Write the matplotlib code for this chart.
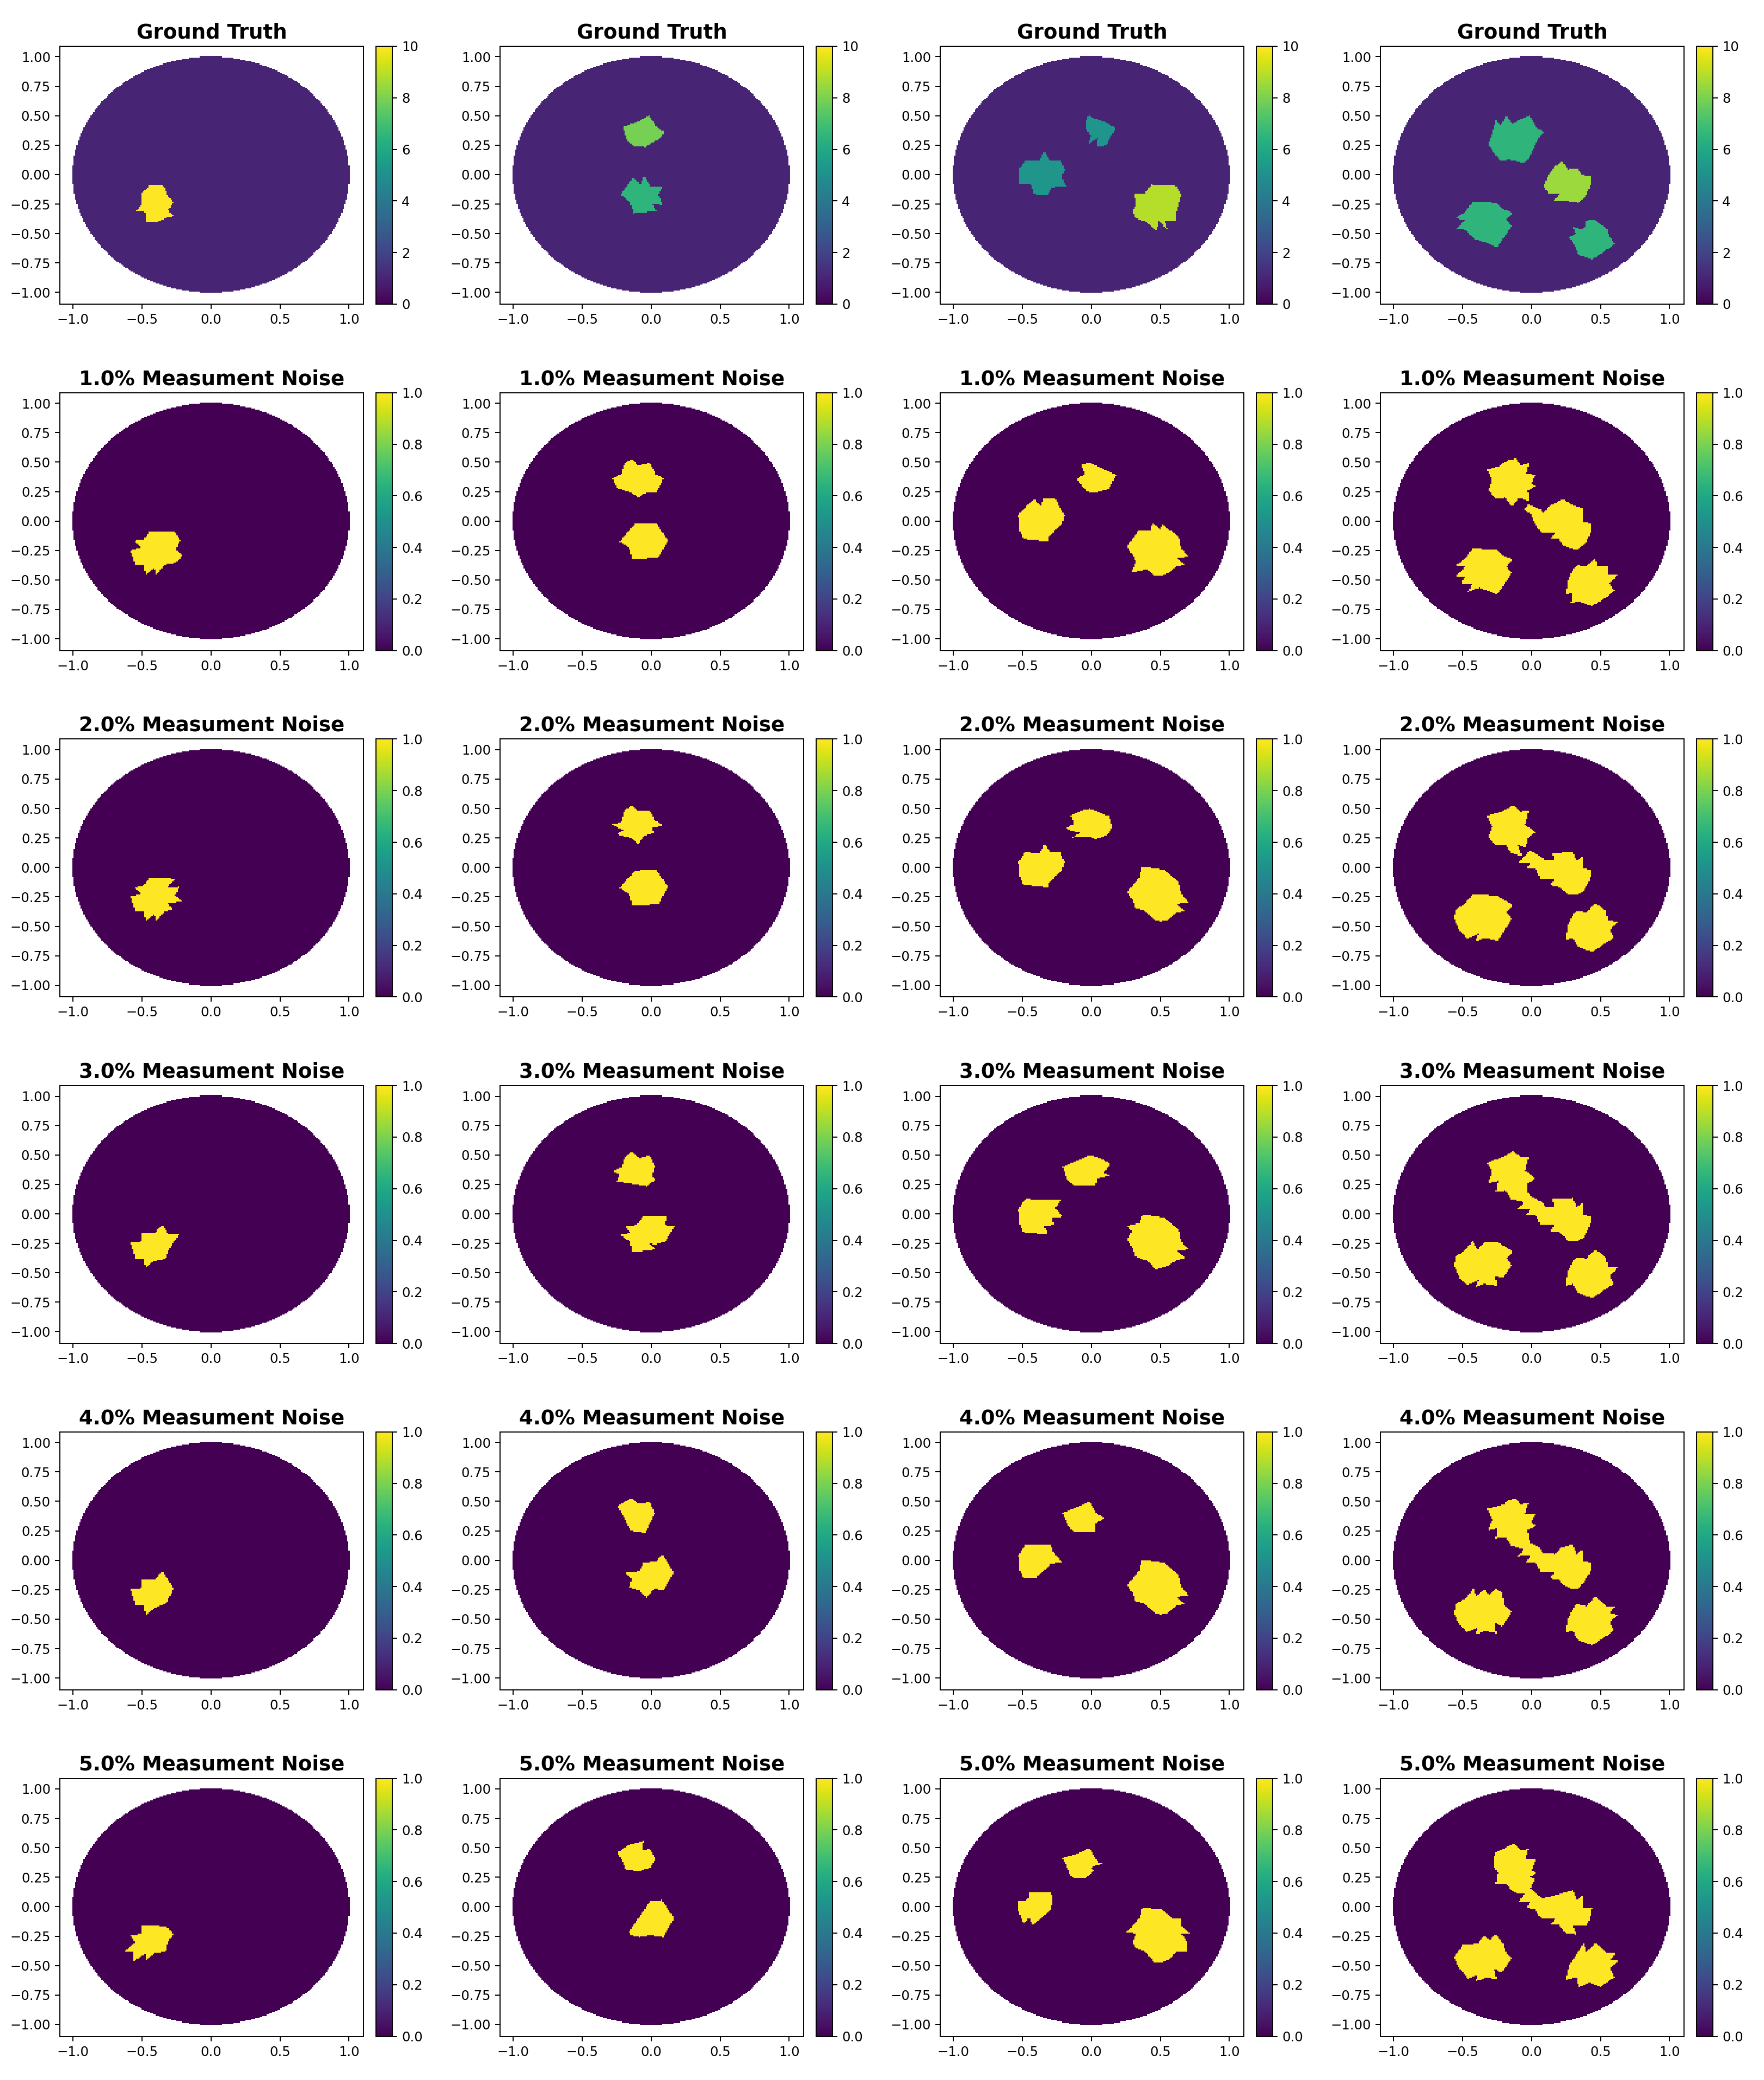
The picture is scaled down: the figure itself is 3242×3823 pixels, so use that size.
import numpy as np
import matplotlib
matplotlib.use('Agg')
import matplotlib.pyplot as plt
from matplotlib.path import Path

# contours, (x, y) en unites des axes
# ground truth
gt_c1_a = [(-.44,-.087),(-.365,-.087),(-.34,-.106),(-.31,-.185),(-.27,-.234),(-.31,-.30),(-.27,-.355),(-.33,-.37),(-.41,-.408),(-.476,-.397),(-.47,-.317),(-.547,-.313),(-.50,-.253),(-.50,-.155)]
gt_c2_a = [(-.014,.502),(.041,.401),(.096,.36),(.069,.309),(-.045,.236),(-.137,.247),(-.178,.301),(-.206,.404),(-.103,.444)]
gt_c2_b = [(-.051,-.012),(-.007,-.1),(.086,-.097),(.051,-.17),(.086,-.258),(.007,-.252),(.041,-.309),(-.127,-.327),(-.154,-.231),(-.223,-.17),(-.13,-.023),(-.079,-.085)]
gt_c3_a = [(-.017,.502),(.007,.481),(.093,.451),(.178,.394),(.127,.293),(.110,.25),(.034,.236),(.048,.312),(-.027,.255),(-.003,.324),(-.045,.394),(-.034,.475)]
gt_c3_b = [(-.343,.198),(-.302,.123),(-.226,.123),(-.192,.046),(-.216,-.023),(-.182,-.096),(-.285,-.108),(-.319,-.174),(-.415,-.165),(-.439,-.085),(-.518,-.085),(-.525,.046),(-.473,.123),(-.377,.123)]
gt_c3_c = [(.436,-.085),(.614,-.096),(.652,-.17),(.631,-.262),(.614,-.324),(.614,-.389),(.532,-.389),(.549,-.46),(.487,-.394),(.47,-.471),(.384,-.394),(.322,-.37),(.298,-.316),(.326,-.247),(.309,-.157),(.384,-.165)]
gt_c4_a = [(-.258,.461),(-.224,.419),(-.183,.499),(-.136,.432),(-.09,.461),(-.015,.499),(.037,.395),(.09,.363),(.047,.30),(-.015,.149),(-.052,.096),(-.127,.121),(-.164,.128),(-.224,.117),(-.277,.196),(-.314,.257),(-.286,.347)]
gt_c4_b = [(.221,.117),(.265,.045),(.331,.055),(.368,-.002),(.436,-.017),(.428,-.087),(.393,-.181),(.34,-.238),(.293,-.229),(.228,-.219),(.159,-.225),(.206,-.159),(.131,-.166),(.09,-.106),(.097,-.068),(.125,-.002),(.163,.064)]
gt_c4_c = [(-.426,-.229),(-.258,-.238),(-.202,-.295),(-.133,-.323),(-.183,-.385),(-.142,-.436),(-.202,-.54),(-.249,-.619),(-.333,-.578),(-.417,-.544),(-.482,-.468),(-.548,-.465),(-.479,-.383),(-.548,-.374),(-.473,-.304)]
gt_c4_d = [(.396,-.389),(.456,-.383),(.546,-.461),(.564,-.521),(.602,-.591),(.518,-.663),(.437,-.72),(.34,-.682),(.312,-.597),(.275,-.536),(.321,-.502),(.297,-.442),(.368,-.465),(.396,-.436)]

# bruit 1 %
n1_c1_a = [(-.445,-.091),(-.258,-.094),(-.223,-.168),(-.258,-.242),(-.208,-.292),(-.251,-.353),(-.336,-.37),(-.399,-.46),(-.41,-.393),(-.473,-.46),(-.484,-.376),(-.548,-.376),(-.583,-.249),(-.505,-.225),(-.558,-.168),(-.488,-.158)]
n1_c2_a = [(-.141,.531),(-.095,.471),(-.011,.491),(.035,.397),(.092,.36),(.035,.245),(-.053,.235),(-.092,.195),(-.141,.239),(-.247,.279),(-.282,.363),(-.219,.397),(-.194,.481)]
n1_c2_b = [(-.116,-.024),(.035,-.017),(.123,-.168),(.053,-.309),(-.134,-.326),(-.159,-.225),(-.229,-.175)]
n1_c3_a = [(-.073,.477),(-.014,.497),(.035,.471),(.179,.39),(.127,.274),(.021,.235),(-.035,.252),(-.106,.355),(-.049,.397)]
n1_c3_b = [(-.416,.187),(-.367,.132),(-.346,.194),(-.261,.187),(-.195,.048),(-.212,-.023),(-.310,-.135),(-.317,-.174),(-.494,-.152),(-.518,-.087),(-.529,.052),(-.458,.139)]
n1_c3_c = [(.346,-.077),(.430,-.077),(.441,-.013),(.501,-.071),(.515,-.029),(.635,-.135),(.653,-.232),(.705,-.303),(.617,-.313),(.68,-.371),(.613,-.387),(.557,-.442),(.501,-.468),(.458,-.458),(.409,-.41),(.289,-.435),(.324,-.345),(.303,-.297),(.257,-.216)]
n1_c4_a = [(-.323,.437),(-.23,.469),(-.174,.516),(-.112,.531),(-.075,.474),(-.021,.49),(-.037,.399),(.032,.395),(-.006,.31),(.032,.299),(-.028,.257),(-.015,.168),(-.09,.197),(-.142,.125),(-.193,.197),(-.258,.191),(-.314,.257),(-.286,.352)]
n1_c4_b = [(-.024,.144),(.069,.096),(.088,.064),(.125,.125),(.228,.185),(.303,.134),(.374,.106),(.368,-.004),(.436,-.021),(.428,-.102),(.393,-.187),(.34,-.24),(.284,-.234),(.228,-.206),(.2,-.155),(.135,-.155),(.172,-.098),(.069,-.098),(.022,-.017),(-.006,.059),(-.052,.096)]
n1_c4_c = [(-.426,-.231),(-.258,-.244),(-.202,-.297),(-.133,-.323),(-.183,-.386),(-.142,-.439),(-.202,-.546),(-.249,-.622),(-.333,-.584),(-.379,-.565),(-.458,-.599),(-.436,-.537),(-.51,-.537),(-.482,-.471),(-.548,-.467),(-.479,-.386),(-.548,-.376),(-.473,-.306)]
n1_c4_d = [(.331,-.371),(.396,-.386),(.465,-.31),(.471,-.382),(.55,-.382),(.555,-.452),(.626,-.457),(.564,-.527),(.602,-.594),(.518,-.665),(.437,-.722),(.34,-.679),(.284,-.698),(.295,-.612),(.25,-.622),(.265,-.509),(.293,-.423)]

# bruit 2 %
n2_c1_a = [(-.445,-.087),(-.258,-.097),(-.318,-.171),(-.23,-.165),(-.258,-.239),(-.208,-.289),(-.311,-.306),(-.276,-.356),(-.336,-.373),(-.399,-.457),(-.41,-.397),(-.473,-.457),(-.484,-.373),(-.548,-.373),(-.583,-.245),(-.505,-.229),(-.558,-.171),(-.488,-.155)]
n2_c2_a = [(-.141,.528),(-.095,.477),(-.011,.484),(.028,.4),(.092,.36),(0,.333),(.028,.299),(-.053,.266),(-.092,.198),(-.141,.249),(-.247,.282),(-.205,.316),(-.282,.366),(-.219,.383),(-.194,.484)]
n2_c2_b = [(-.116,-.027),(.035,-.02),(.123,-.165),(.053,-.313),(-.134,-.323),(-.159,-.229),(-.229,-.175)]
n2_c3_a = [(-.148,.442),(-.078,.481),(-.014,.5),(.035,.481),(.131,.435),(.152,.339),(.120,.281),(.035,.242),(-.028,.265),(-.141,.255),(-.078,.297),(-.148,.313),(-.183,.335),(-.127,.368)]
n2_c3_b = [(-.48,.129),(-.374,.119),(-.343,.2),(-.293,.129),(-.226,.129),(-.195,.045),(-.212,-.026),(-.31,-.132),(-.315,-.171),(-.494,-.148),(-.518,-.084),(-.529,.045)]
n2_c3_c = [(.366,0),(.402,0),(.522,-.019),(.635,-.132),(.653,-.229),(.705,-.297),(.617,-.31),(.68,-.371),(.613,-.387),(.557,-.445),(.501,-.461),(.458,-.445),(.381,-.365),(.317,-.348),(.303,-.284),(.257,-.21),(.346,-.09)]
n2_c4_a = [(-.324,.438),(-.216,.477),(-.131,.528),(-.075,.477),(-.021,.483),(-.046,.364),(.031,.299),(-.025,.257),(-.04,.17),(-.099,.192),(-.068,.095),(-.145,.121),(-.188,.192),(-.258,.186),(-.315,.257),(-.286,.347)]
n2_c4_b = [(-.096,.04),(-.011,.144),(.08,.082),(.102,.057),(.165,.057),(.151,.121),(.299,.131),(.327,.057),(.377,.095),(.367,-.008),(.437,-.024),(.422,-.105),(.377,-.202),(.334,-.234),(.271,-.234),(.207,-.17),(.134,-.153),(.169,-.099),(.066,-.099),(.031,-.015),(-.039,-.015),(-.004,.04)]
n2_c4_c = [(-.427,-.228),(-.251,-.241),(-.131,-.321),(-.181,-.38),(-.141,-.435),(-.244,-.622),(-.343,-.599),(-.406,-.628),(-.385,-.564),(-.463,-.606),(-.519,-.541),(-.564,-.428),(-.547,-.363),(-.477,-.299)]
n2_c4_d = [(.327,-.37),(.398,-.38),(.461,-.305),(.546,-.373),(.55,-.454),(.626,-.46),(.567,-.531),(.598,-.599),(.518,-.654),(.44,-.719),(.334,-.67),(.299,-.599),(.247,-.615),(.264,-.493),(.299,-.402)]

# bruit 3 %
n3_c1_a = [(-.505,-.158),(-.406,-.158),(-.353,-.094),(-.311,-.168),(-.23,-.168),(-.311,-.319),(-.329,-.38),(-.417,-.403),(-.473,-.461),(-.484,-.38),(-.548,-.38),(-.583,-.245),(-.505,-.235)]
n3_c2_a = [(-.141,.531),(-.088,.471),(-.011,.497),(.028,.403),(.007,.319),(.035,.292),(-.035,.235),(-.123,.252),(-.247,.276),(-.229,.336),(-.282,.363),(-.212,.393),(-.194,.471)]
n3_c2_b = [(-.053,-.017),(.113,-.017),(.099,-.094),(.169,-.101),(.106,-.235),(.035,-.259),(-.018,-.252),(.035,-.303),(-.134,-.326),(-.152,-.235),(-.229,-.178),(-.152,-.161),(-.187,-.101),(-.106,-.094)]
n3_c3_a = [(-.209,.398),(-.106,.447),(-.014,.498),(.078,.466),(.137,.424),(.085,.343),(.137,.327),(.042,.301),(.031,.236),(-.049,.246),(-.134,.246),(-.176,.294)]
n3_c3_b = [(-.473,.126),(-.216,.123),(-.261,.052),(-.209,-.023),(-.287,-.036),(-.268,-.094),(-.346,-.1),(-.313,-.175),(-.494,-.155),(-.518,-.094),(-.529,.036),(-.508,.084)]
n3_c3_c = [(.37,-.006),(.522,-.029),(.635,-.136),(.653,-.239),(.705,-.304),(.617,-.314),(.68,-.375),(.613,-.395),(.557,-.443),(.465,-.472),(.409,-.401),(.317,-.362),(.296,-.288),(.257,-.217),(.296,-.149),(.257,-.104),(.346,-.078)]
n3_c4_a = [(-.324,.434),(-.216,.479),(-.131,.531),(-.075,.479),(-.021,.485),(-.046,.366),(.031,.301),(-.025,.262),(-.032,.197),(-.004,.149),(.08,.1),(.102,.058),(.165,.058),(.151,.129),(.299,.136),(.327,.058),(.377,.097),(.367,-.006),(.437,-.023),(.422,-.104),(.377,-.201),(.334,-.233),(.271,-.233),(.2,-.152),(.134,-.152),(.169,-.087),(.066,-.094),(.031,-.006),(-.039,-.006),(-.004,.042),(-.099,.042),(-.053,.1),(-.145,.123),(-.188,.197),(-.258,.191),(-.244,.278),(-.315,.262),(-.286,.359)]
n3_c4_c = [(-.427,-.23),(-.392,-.304),(-.343,-.246),(-.251,-.239),(-.131,-.32),(-.181,-.379),(-.141,-.434),(-.209,-.547),(-.258,-.531),(-.254,-.612),(-.343,-.595),(-.406,-.628),(-.385,-.563),(-.463,-.605),(-.519,-.547),(-.564,-.434),(-.547,-.362),(-.477,-.304)]
n3_c4_d = [(.327,-.369),(.398,-.379),(.461,-.304),(.546,-.375),(.55,-.453),(.626,-.456),(.567,-.531),(.598,-.595),(.518,-.654),(.44,-.718),(.334,-.67),(.299,-.595),(.247,-.612),(.264,-.492),(.299,-.401)]

# bruit 4 %
n4_c1_a = [(-.505,-.161),(-.406,-.161),(-.353,-.094),(-.311,-.161),(-.272,-.245),(-.322,-.363),(-.417,-.407),(-.473,-.464),(-.484,-.38),(-.548,-.38),(-.583,-.245),(-.505,-.235)]
n4_c2_a = [(-.141,.528),(-.088,.477),(-.011,.494),(.028,.4),(-.042,.232),(-.148,.249),(-.194,.36),(-.247,.46)]
n4_c2_b = [(-.053,-.02),(.035,-.01),(.081,.05),(.166,-.104),(.088,-.255),(.025,-.239),(-.035,-.319),(-.088,-.252),(-.159,-.229),(-.141,-.161),(-.187,-.104),(-.088,-.094)]
n4_c3_a = [(-.209,.401),(-.092,.456),(-.014,.498),(.035,.401),(.092,.359),(.035,.311),(.031,.239),(-.134,.246),(-.176,.311)]
n4_c3_b = [(-.48,.126),(-.289,.126),(-.275,.068),(-.209,-.019),(-.292,-.029),(-.402,-.152),(-.494,-.152),(-.518,-.087),(-.529,.042)]
n4_c3_c = [(.366,0),(.402,0),(.522,-.019),(.635,-.132),(.653,-.229),(.705,-.297),(.617,-.31),(.68,-.371),(.613,-.387),(.557,-.445),(.501,-.461),(.458,-.445),(.381,-.365),(.317,-.348),(.303,-.284),(.257,-.21),(.346,-.09)]
n4_c4_a = [(-.324,.435),(-.195,.477),(-.167,.512),(-.110,.526),(-.082,.472),(-.023,.485),(-.046,.395),(.031,.392),(-.004,.323),(.031,.292),(-.03,.254),(-.011,.146),(.052,.115),(.08,.062),(.172,.054),(.214,.108),(.299,.134),(.327,.051),(.377,.092),(.367,-.008),(.437,-.018),(.426,-.1),(.384,-.177),(.342,-.238),(.285,-.238),(.229,-.208),(.2,-.162),(.134,-.154),(.168,-.1),(.066,-.097),(.031,-.018),(-.039,-.015),(-.004,.042),(-.099,.034),(-.053,.092),(-.145,.123),(-.188,.192),(-.258,.185),(-.248,.269),(-.315,.254),(-.283,.346)]
n4_c4_c = [(-.42,-.231),(-.399,-.308),(-.343,-.249),(-.308,-.289),(-.258,-.238),(-.213,-.277),(-.195,-.385),(-.141,-.438),(-.213,-.562),(-.265,-.531),(-.254,-.62),(-.336,-.603),(-.406,-.631),(-.385,-.569),(-.47,-.611),(-.519,-.546),(-.564,-.454),(-.547,-.369),(-.47,-.315)]
n4_c4_d = [(.327,-.369),(.398,-.389),(.461,-.308),(.546,-.389),(.609,-.392),(.563,-.446),(.626,-.462),(.567,-.523),(.598,-.6),(.518,-.662),(.44,-.723),(.334,-.677),(.299,-.6),(.247,-.618),(.264,-.5),(.299,-.415)]

# bruit 5 %
n5_c1_a = [(-.505,-.158),(-.406,-.158),(-.311,-.178),(-.272,-.235),(-.311,-.297),(-.329,-.381),(-.417,-.397),(-.473,-.462),(-.477,-.4),(-.558,-.462),(-.558,-.381),(-.622,-.377),(-.551,-.304),(-.583,-.238),(-.505,-.235)]
n5_c2_a = [(-.053,.561),(-.063,.483),(-.007,.491),(.032,.406),(0,.337),(-.088,.298),(-.183,.317),(-.205,.383),(-.247,.46),(-.159,.525)]
n5_c2_b = [(-.007,.046),(.078,.056),(.166,-.1),(.088,-.258),(-.007,-.242),(-.088,-.258),(-.152,-.238),(-.159,-.212)]
n5_c3_a = [(-.017,.499),(.052,.375),(.086,.364),(.014,.341),(0,.326),(.024,.306),(-.052,.239),(-.142,.247),(-.19,.368),(-.214,.414),(-.097,.453)]
n5_c3_b = [(-.452,.125),(-.39,.12),(-.294,.125),(-.276,.059),(-.297,-.034),(-.425,-.158),(-.449,-.096),(-.494,-.147),(-.528,-.034),(-.528,.051),(-.459,.056)]
n5_c3_c = [(.37,-.006),(.518,-.026),(.584,-.096),(.653,-.096),(.653,-.161),(.715,-.227),(.653,-.227),(.698,-.312),(.691,-.377),(.618,-.381),(.56,-.451),(.515,-.469),(.456,-.469),(.387,-.381),(.318,-.343),(.301,-.304),(.325,-.227),(.249,-.224),(.352,-.096)]
n5_c4_a = [(-.131,.533),(-.104,.514),(-.073,.476),(-.024,.491),(-.045,.402),(.031,.398),(0,.306),(.031,.29),(-.01,.252),(.024,.236),(-.01,.151),(.076,.066),(.197,.105),(.301,.139),(.328,.056),(.376,.097),(.369,-.006),(.439,-.015),(.421,-.111),(.397,-.165),(.301,-.165),(.325,-.238),(.249,-.227),(.197,-.154),(.138,-.154),(.18,-.096),(.066,-.096),(.024,-.019),(-.038,-.011),(-.01,.043),(-.097,.036),(-.052,.105),(-.131,.12),(-.183,.19),(-.259,.19),(-.245,.29),(-.276,.352),(-.263,.46)]
n5_c4_c = [(-.345,-.247),(-.304,-.286),(-.259,-.235),(-.207,-.312),(-.183,-.397),(-.142,-.439),(-.218,-.559),(-.269,-.528),(-.252,-.618),(-.321,-.602),(-.401,-.632),(-.39,-.575),(-.459,-.61),(-.529,-.513),(-.563,-.428),(-.494,-.32),(-.39,-.315)]
n5_c4_d = [(.38,-.309),(.397,-.386),(.463,-.309),(.542,-.389),(.611,-.389),(.577,-.448),(.629,-.459),(.57,-.525),(.601,-.598),(.497,-.683),(.421,-.644),(.342,-.683),(.325,-.598),(.249,-.621),(.273,-.497)]

# valeurs de conductivite
gt_fond = 1.0
gt_valeurs = [[10.0], [7.9, 6.5], [5.2, 5.2, 8.9], [6.5, 8.5, 6.5, 6.5]]

gt_blobs = [[gt_c1_a], [gt_c2_a, gt_c2_b], [gt_c3_a, gt_c3_b, gt_c3_c], [gt_c4_a, gt_c4_b, gt_c4_c, gt_c4_d]]
bruits = [1.0, 2.0, 3.0, 4.0, 5.0]
recons = [
    [[n1_c1_a], [n1_c2_a, n1_c2_b], [n1_c3_a, n1_c3_b, n1_c3_c], [n1_c4_a, n1_c4_b, n1_c4_c, n1_c4_d]],
    [[n2_c1_a], [n2_c2_a, n2_c2_b], [n2_c3_a, n2_c3_b, n2_c3_c], [n2_c4_a, n2_c4_b, n2_c4_c, n2_c4_d]],
    [[n3_c1_a], [n3_c2_a, n3_c2_b], [n3_c3_a, n3_c3_b, n3_c3_c], [n3_c4_a, n3_c4_c, n3_c4_d]],
    [[n4_c1_a], [n4_c2_a, n4_c2_b], [n4_c3_a, n4_c3_b, n4_c3_c], [n4_c4_a, n4_c4_c, n4_c4_d]],
    [[n5_c1_a], [n5_c2_a, n5_c2_b], [n5_c3_a, n5_c3_b, n5_c3_c], [n5_c4_a, n5_c4_c, n5_c4_d]],
]

W, H = 3242, 3823
DPI = 175

# grille du disque
g = np.linspace(-1, 1, 200)
X, Y = np.meshgrid(g, g)
pts = np.column_stack([X.ravel(), Y.ravel()])
hors_disque = X**2 + Y**2 > 1.006


def rasteriser(blobs, valeurs, fond):
    z = np.full(X.shape, fond, dtype=float)
    for poly, v in zip(blobs, valeurs):
        dedans = Path(poly + [poly[0]]).contains_points(pts).reshape(X.shape)
        z[dedans] = v
    return np.ma.masked_where(hors_disque, z)


def panneau(lig, col, z, vmax, titre, cticks):
    x0 = 110 + col * 809
    y0 = 85 + lig * 636.7
    ax = fig.add_axes([x0 / W, 1 - (y0 + 474) / H, 558 / W, 474 / H])
    m = ax.pcolormesh(X, Y, z, cmap='viridis', vmin=0, vmax=vmax, shading='nearest', antialiased=False)
    ax.set_xlim(-1.095, 1.105)
    ax.set_ylim(-1.10, 1.09)
    ax.set_xticks([-1.0, -0.5, 0.0, 0.5, 1.0])
    ax.set_yticks([-1.0, -0.75, -0.5, -0.25, 0.0, 0.25, 0.5, 0.75, 1.0])
    ax.set_title(titre, fontsize=15.3, fontweight='bold', pad=6)
    cax = fig.add_axes([(x0 + 581) / W, 1 - (y0 + 474) / H, 30 / W, 474 / H])
    fig.colorbar(m, cax=cax, ticks=cticks)


fig = plt.figure(figsize=(W / DPI, H / DPI), dpi=DPI)

for c in range(4):
    z = rasteriser(gt_blobs[c], gt_valeurs[c], gt_fond)
    panneau(0, c, z, 10, 'Ground Truth', [0, 2, 4, 6, 8, 10])
    for i, b in enumerate(bruits):
        blobs = recons[i][c]
        z = rasteriser(blobs, [1.0] * len(blobs), 0.0)
        panneau(i + 1, c, z, 1.0, str(b) + '% Measument Noise', [0.0, 0.2, 0.4, 0.6, 0.8, 1.0])

fig.savefig('out.png', dpi=DPI)
